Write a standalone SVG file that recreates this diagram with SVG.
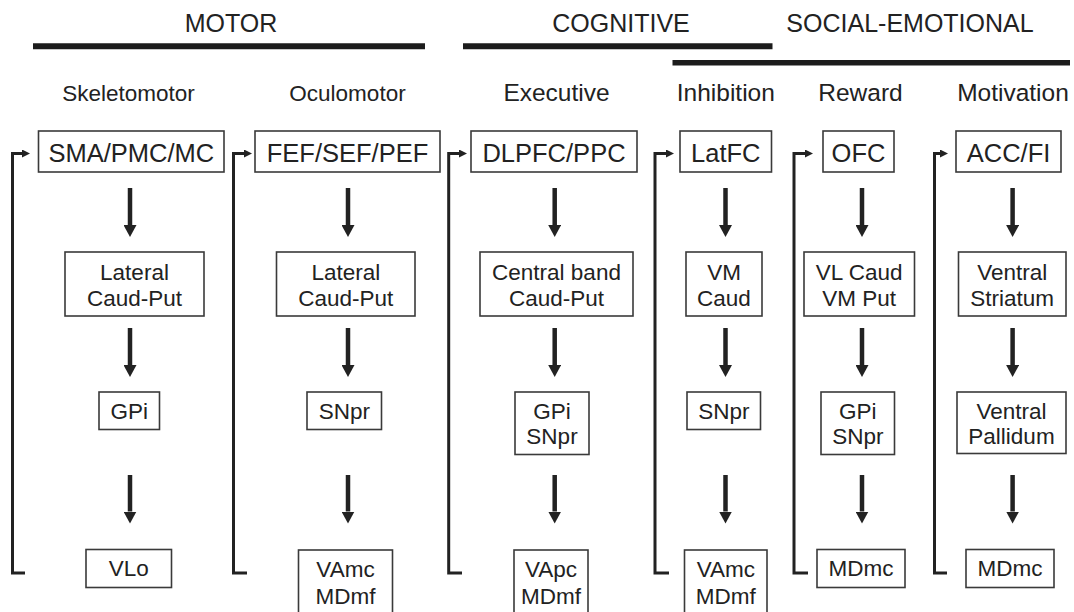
<svg xmlns="http://www.w3.org/2000/svg" width="1074" height="612" viewBox="0 0 1074 612">
<style>
.t{font-family:"Liberation Sans",Arial,Helvetica,sans-serif;fill:#222;text-anchor:middle}
.h{font-size:25px}
.s1{font-size:22.5px}
.s2{font-size:24.5px}
.tb{font-size:25.5px}
.mb{font-size:22.5px}
.box{fill:#fff;stroke:#3a3a3a;stroke-width:1.6}
.bar{stroke:#1c1c1c;stroke-width:6}
.ar{stroke:#222;stroke-width:4.5;fill:none;marker-end:url(#ah)}
.fb{stroke:#222;stroke-width:3;fill:none;marker-end:url(#fa)}
</style>
<defs>
<marker id="ah" markerUnits="userSpaceOnUse" viewBox="0 0 12 13" refX="0" refY="6.5" markerWidth="12" markerHeight="13" orient="auto">
<path d="M0,0 L12,6.5 L0,13 z" fill="#222"/>
</marker>
<marker id="fa" markerUnits="userSpaceOnUse" viewBox="0 0 8 8" refX="0" refY="4" markerWidth="8" markerHeight="8" orient="auto">
<path d="M0,0 L8,4 L0,8 z" fill="#222"/>
</marker>
</defs>
<rect width="1074" height="612" fill="#fff"/>

<g id="headers">
<text class="t h" x="231" y="32">MOTOR</text>
<text class="t h" x="621" y="32">COGNITIVE</text>
<text class="t h" x="910" y="32">SOCIAL-EMOTIONAL</text>
<line class="bar" x1="33" y1="46.3" x2="425" y2="46.3"/>
<line class="bar" x1="463" y1="46.3" x2="772.5" y2="46.3"/>
<line class="bar" x1="672.5" y1="62.7" x2="1070" y2="62.7" style="stroke-width:5.5"/>
<text class="t s1" x="128.5" y="101">Skeletomotor</text>
<text class="t s1" x="347.5" y="101">Oculomotor</text>
<text class="t s2" x="556.5" y="101">Executive</text>
<text class="t s2" x="725.8" y="101">Inhibition</text>
<text class="t s2" x="860.5" y="101">Reward</text>
<text class="t s2" x="1013" y="101">Motivation</text>
</g>

<g id="connectors">
<line class="ar" x1="130" y1="188" x2="130" y2="225"/>
<line class="ar" x1="130" y1="328" x2="130" y2="365"/>
<line class="ar" x1="130" y1="475" x2="130" y2="511.5"/>
<line class="ar" x1="348" y1="188" x2="348" y2="225"/>
<line class="ar" x1="348" y1="328" x2="348" y2="365"/>
<line class="ar" x1="348" y1="475" x2="348" y2="511.5"/>
<line class="ar" x1="554.7" y1="188" x2="554.7" y2="225"/>
<line class="ar" x1="554.7" y1="328" x2="554.7" y2="365"/>
<line class="ar" x1="554.7" y1="475" x2="554.7" y2="511.5"/>
<line class="ar" x1="725.5" y1="188" x2="725.5" y2="225"/>
<line class="ar" x1="725.5" y1="328" x2="725.5" y2="365"/>
<line class="ar" x1="725.5" y1="475" x2="725.5" y2="511.5"/>
<line class="ar" x1="862" y1="188" x2="862" y2="225"/>
<line class="ar" x1="862" y1="328" x2="862" y2="365"/>
<line class="ar" x1="862" y1="475" x2="862" y2="511.5"/>
<line class="ar" x1="1012.6" y1="188" x2="1012.6" y2="225"/>
<line class="ar" x1="1012.6" y1="328" x2="1012.6" y2="365"/>
<line class="ar" x1="1012.6" y1="475" x2="1012.6" y2="511.5"/>
<path class="fb" d="M25,573 H12.5 V153.5 H22"/>
<path class="fb" d="M247,573 H233.5 V153.5 H244"/>
<path class="fb" d="M462,573 H448.7 V153.5 H459"/>
<path class="fb" d="M669,573 H655 V153.5 H666"/>
<path class="fb" d="M808,573 H794 V153.5 H805"/>
<path class="fb" d="M947,573 H934.5 V153.5 H940"/>
</g>

<g id="n-sma"><rect class="box" x="38.5" y="131" width="185.5" height="41"/><text class="t tb" x="131.3" y="161.5">SMA/PMC/MC</text></g>
<g id="n-fef"><rect class="box" x="255" y="131" width="185" height="41"/><text class="t tb" x="347.5" y="161.5">FEF/SEF/PEF</text></g>
<g id="n-dlpfc"><rect class="box" x="471" y="131" width="166" height="41"/><text class="t tb" x="554" y="161.5">DLPFC/PPC</text></g>
<g id="n-latfc"><rect class="box" x="680" y="131" width="91.5" height="41"/><text class="t tb" x="725.8" y="161.5">LatFC</text></g>
<g id="n-ofc"><rect class="box" x="823" y="131" width="71" height="41"/><text class="t tb" x="858.5" y="161.5">OFC</text></g>
<g id="n-acc"><rect class="box" x="956" y="131" width="105" height="41"/><text class="t tb" x="1008.5" y="161.5">ACC/FI</text></g>

<g id="n-lcp1"><rect class="box" x="65" y="252" width="139" height="64"/><text class="t mb" x="134.5" y="279.5">Lateral</text><text class="t mb" x="134.5" y="306">Caud-Put</text></g>
<g id="n-lcp2"><rect class="box" x="276.5" y="252" width="138.5" height="64"/><text class="t mb" x="345.8" y="279.5">Lateral</text><text class="t mb" x="345.8" y="306">Caud-Put</text></g>
<g id="n-cb"><rect class="box" x="480" y="252" width="153" height="64"/><text class="t mb" x="556.5" y="279.5">Central band</text><text class="t mb" x="556.5" y="306">Caud-Put</text></g>
<g id="n-vmc"><rect class="box" x="686" y="252" width="76" height="64"/><text class="t mb" x="724" y="279.5">VM</text><text class="t mb" x="724" y="306">Caud</text></g>
<g id="n-vlc"><rect class="box" x="804" y="252" width="110.5" height="64"/><text class="t mb" x="859.2" y="279.5">VL Caud</text><text class="t mb" x="859.2" y="306">VM Put</text></g>
<g id="n-vs"><rect class="box" x="958.5" y="252" width="107.5" height="64"/><text class="t mb" x="1012.2" y="279.5">Ventral</text><text class="t mb" x="1012.2" y="306">Striatum</text></g>

<g id="n-gpi1"><rect class="box" x="99" y="392" width="60.5" height="37.5"/><text class="t mb" x="129.3" y="418.5">GPi</text></g>
<g id="n-snpr2"><rect class="box" x="307" y="392" width="74.5" height="37.5"/><text class="t mb" x="344.3" y="418.5">SNpr</text></g>
<g id="n-gs3"><rect class="box" x="515" y="392" width="74" height="62.5"/><text class="t mb" x="552" y="418.5">GPi</text><text class="t mb" x="552" y="444">SNpr</text></g>
<g id="n-snpr4"><rect class="box" x="687" y="392" width="73.5" height="37.5"/><text class="t mb" x="723.8" y="418.5">SNpr</text></g>
<g id="n-gs5"><rect class="box" x="821" y="392" width="73.5" height="62.5"/><text class="t mb" x="857.8" y="418.5">GPi</text><text class="t mb" x="857.8" y="444">SNpr</text></g>
<g id="n-vp"><rect class="box" x="957" y="392" width="109" height="61.5"/><text class="t mb" x="1011.5" y="418.5">Ventral</text><text class="t mb" x="1011.5" y="444">Pallidum</text></g>

<g id="n-vlo"><rect class="box" x="86" y="549.5" width="85.5" height="38"/><text class="t mb" x="128.8" y="576">VLo</text></g>
<g id="n-vam2"><rect class="box" x="298.5" y="550" width="94" height="70"/><text class="t mb" x="345.5" y="577">VAmc</text><text class="t mb" x="345.5" y="603.5">MDmf</text></g>
<g id="n-vap3"><rect class="box" x="514" y="550" width="74" height="70"/><text class="t mb" x="551" y="577">VApc</text><text class="t mb" x="551" y="603.5">MDmf</text></g>
<g id="n-vam4"><rect class="box" x="684.5" y="550" width="82.5" height="70"/><text class="t mb" x="725.8" y="577">VAmc</text><text class="t mb" x="725.8" y="603.5">MDmf</text></g>
<g id="n-mdmc5"><rect class="box" x="817" y="549.5" width="88" height="38"/><text class="t mb" x="861" y="576">MDmc</text></g>
<g id="n-mdmc6"><rect class="box" x="966" y="549.5" width="88" height="38"/><text class="t mb" x="1010" y="576">MDmc</text></g>
</svg>
